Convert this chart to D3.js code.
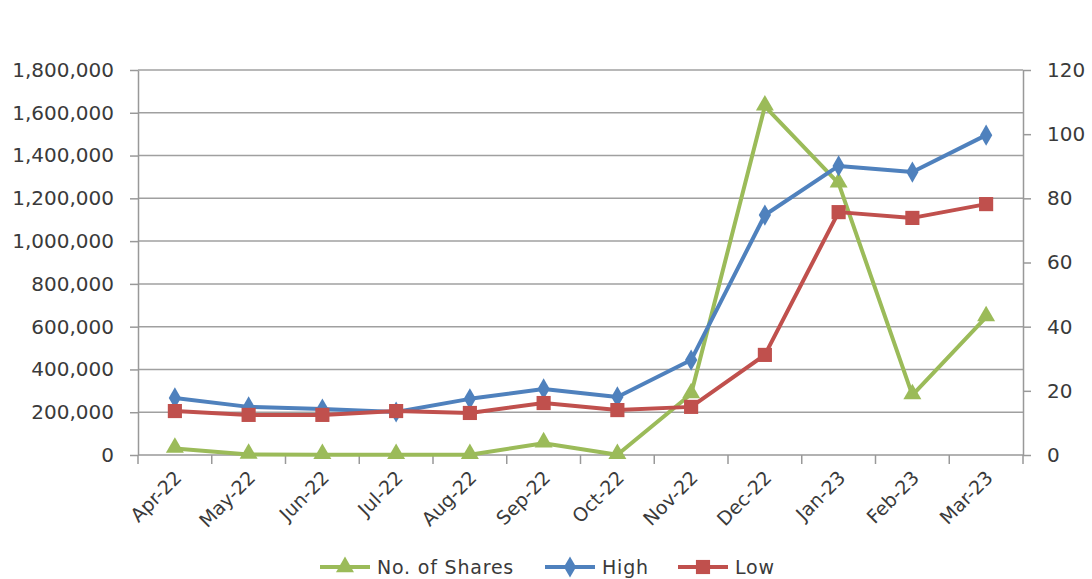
<!DOCTYPE html>
<html>
<head>
<meta charset="utf-8">
<script src="https://cdn.jsdelivr.net/npm/d3@7"></script>
<style>
body { margin: 0; background: #fff; }
svg text { font-family: "DejaVu Sans", "Noto Sans", sans-serif; fill: #3a3a3a; }
.axisClass .domain { stroke: #999; stroke-width: 1.5; }
.axisClass .tick line { stroke: #999; stroke-width: 1.5; }
.grid line { stroke: #a0a0a0; stroke-width: 1.5; }
</style>
</head>
<body>
<div id="chart"></div>
<script>

const months = ["Apr-22","May-22","Jun-22","Jul-22","Aug-22","Sep-22","Oct-22","Nov-22","Dec-22","Jan-23","Feb-23","Mar-23"]
const shares = [30000, 2000, 1000, 1000, 1000, 55000, 1000, 285000, 1630000, 1270000, 280000, 645000]
const high = [17.8, 15.0, 14.3, 13.4, 17.5, 20.6, 18.1, 29.6, 74.8, 90.1, 88.2, 99.7]
const low = [13.7, 12.5, 12.5, 13.7, 13.1, 16.2, 14.0, 15.0, 31.2, 75.7, 73.9, 78.2]

const leftTicks = [0, 200000, 400000, 600000, 800000, 1000000, 1200000, 1400000, 1600000, 1800000]
const rightTicks = [0, 20, 40, 60, 80, 100, 120]

const config = { top: 70, right: 69, bottom: 124, left: 138 }
const width = 1092
const height = 579

const svg = d3.select('#chart').append('svg').attr("width", width).attr("height", height)

const x = d3.scaleBand().domain(months).range([config.left, width - config.right])
const yLeft = d3.scaleLinear().domain([0, 1800000]).range([height - config.bottom, config.top])
const yRight = d3.scaleLinear().domain([0, 120]).range([height - config.bottom, config.top])

// gridlines
svg.append('g').attr('class', 'grid')
  .selectAll('line').data(leftTicks.slice(1)).enter().append('line')
  .attr('x1', config.left).attr('x2', width - config.right)
  .attr('y1', d => yLeft(d)).attr('y2', d => yLeft(d))

// left axis
const axisLeft = d3.axisLeft(yLeft).tickValues(leftTicks).tickFormat(d3.format(",")).tickSize(8).tickSizeOuter(0).tickPadding(16)
svg.append('g').attr('class', 'axisClass')
  .attr('transform', `translate(${config.left},0)`)
  .call(axisLeft)
  .selectAll('text').style('font-size', '20px').style('font-family', '"DejaVu Sans", sans-serif')

// right axis
const axisRight = d3.axisRight(yRight).tickValues(rightTicks).tickSize(8).tickSizeOuter(0).tickPadding(16)
svg.append('g').attr('class', 'axisClass')
  .attr('transform', `translate(${width - config.right},0)`)
  .call(axisRight)
  .selectAll('text').style('font-size', '20px').style('font-family', '"DejaVu Sans", sans-serif')

// bottom axis, ticks between categories
const xb = svg.append('g').attr('class', 'axisClass')
  .attr('transform', `translate(0,${height - config.bottom})`)
xb.append('line').attr('class', 'domain')
  .attr('x1', config.left).attr('x2', width - config.right)
  .attr('stroke', '#999').attr('stroke-width', 1.5)
const bounds = months.map(d => x(d)).concat([x(months[months.length - 1]) + x.bandwidth()])
xb.selectAll('.tick').data(bounds).enter().append('line').attr('class', 'tickLine')
  .attr('x1', d => d).attr('x2', d => d).attr('y1', 0).attr('y2', 9)
  .attr('stroke', '#999').attr('stroke-width', 1.5)
xb.selectAll('.lbl').data(months).enter().append('text')
  .attr('transform', d => `translate(${x(d) + x.bandwidth() / 2 + 8},${24}) rotate(-45)`)
  .attr('text-anchor', 'end')
  .style('font-size', '19px')
  .text(d => d)

const cx = (d, i) => x(months[i]) + x.bandwidth() / 2

const lineShares = d3.line().x(cx).y(d => yLeft(d))
const lineRight = d3.line().x(cx).y(d => yRight(d))

const green = "#9BBB59", blue = "#4F81BD", red = "#C0504D"

svg.append('path').datum(shares).attr('d', lineShares)
  .attr('fill', 'none').attr('stroke', green).attr('stroke-width', 4).attr('stroke-linejoin', 'round')
svg.append('path').datum(high).attr('d', lineRight)
  .attr('fill', 'none').attr('stroke', blue).attr('stroke-width', 4).attr('stroke-linejoin', 'round')
svg.append('path').datum(low).attr('d', lineRight)
  .attr('fill', 'none').attr('stroke', red).attr('stroke-width', 4).attr('stroke-linejoin', 'round')

const tri = d3.symbol().type(d3.symbolTriangle).size(140)
const dia = d3.symbol().type(d3.symbolDiamond).size(130)
const sq = d3.symbol().type(d3.symbolSquare).size(200)

svg.selectAll('.tri').data(shares).enter().append('path')
  .attr('d', tri).attr('fill', green)
  .attr('transform', (d, i) => `translate(${cx(d, i)},${yLeft(d) - 1})`)
svg.selectAll('.dia').data(high).enter().append('path')
  .attr('d', dia).attr('fill', blue)
  .attr('transform', (d, i) => `translate(${cx(d, i)},${yRight(d)})`)
svg.selectAll('.sq').data(low).enter().append('path')
  .attr('d', sq).attr('fill', red)
  .attr('transform', (d, i) => `translate(${cx(d, i)},${yRight(d)})`)

// legend
const legend = [
  { name: "No. of Shares", color: green, sym: tri, x: 320 },
  { name: "High", color: blue, sym: dia, x: 545 },
  { name: "Low", color: red, sym: sq, x: 678 }
]
const ly = 567
legend.forEach(function (l) {
  svg.append('line').attr('x1', l.x).attr('x2', l.x + 50).attr('y1', ly).attr('y2', ly)
    .attr('stroke', l.color).attr('stroke-width', 4)
  svg.append('path').attr('d', l.sym).attr('fill', l.color)
    .attr('transform', `translate(${l.x + 25},${ly})`)
  svg.append('text').attr('x', l.x + 57).attr('y', ly + 7).style('font-size', '19px')
    .style('letter-spacing', '0.8px').text(l.name)
})

</script>
</body>
</html>
